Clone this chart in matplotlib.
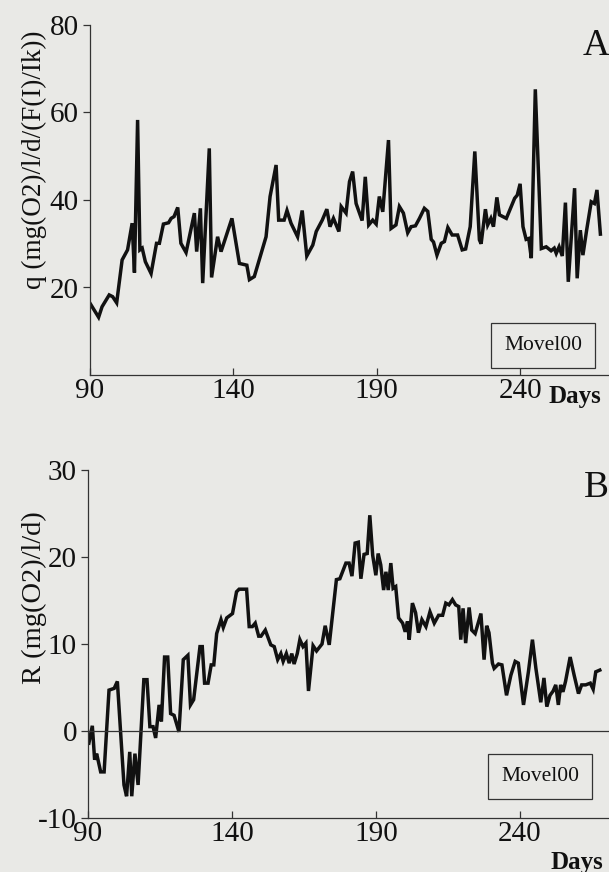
import matplotlib.pyplot as plt

# Panel A: q (mg(O2)/l/d/(F(I)/Ik)) -- vertices
days_a = [90, 93, 94.2, 96.7, 97.9, 99.3, 101.2, 103.1, 104.7, 105.5, 106.6, 107.4, 108.2,
          109.3, 111.3, 113.2, 114.2, 115.6, 117.4, 118.3, 119.3, 120.6, 121.7, 123.5, 126.4,
          127.2, 128.5, 129.3, 131.6, 132.4, 134.5, 135.7, 139.5, 142.1, 144.7, 145.6, 147.3,
          151.4, 152.8, 154.9, 155.8, 157.7, 158.7, 160.1, 162.4, 164, 165.6, 167.7, 168.9,
          171, 172.6, 173.7, 174.9, 176.8, 177.6, 179.3, 180.5, 181.6, 182.8, 184.9, 186,
          187.2, 188.6, 189.8, 190.9, 192.1, 194.1, 195, 196.7, 197.9, 199.3, 200.8, 202,
          203.5, 204.9, 206.6, 207.8, 209, 209.8, 211, 212.5, 213.6, 214.8, 216.3, 218.2,
          219.8, 221, 222.6, 224.2, 225.8, 226.4, 227.9, 228.7, 229.8, 230.7, 231.9, 232.8,
          235.2, 238.1, 239, 240, 241, 242.1, 243, 243.9, 245.3, 247.4, 249.1, 250.8, 251.9,
          252.6, 253.6, 254.7, 255.8, 256.8, 259, 259.9, 261, 261.9, 263.2, 264.8, 265.9,
          266.8, 268]
q_vals = [16.4, 13.2, 15.6, 18.3, 17.9, 16.5, 26.3, 28.6, 34.7, 23.4, 58.3, 28.6, 29.0,
          25.9, 23.2, 30.1, 30.1, 34.5, 34.8, 35.8, 36.2, 38.3, 30.1, 28.0, 37.0,
          28.2, 38.1, 21.0, 51.8, 22.3, 31.6, 28.2, 35.8, 25.5, 25.1, 21.8, 22.5,
          31.6, 40.8, 48.0, 35.4, 35.4, 37.6, 34.7, 31.6, 37.6, 27.2, 29.7, 32.8,
          35.4, 37.9, 33.9, 35.8, 32.8, 38.5, 37.0, 44.2, 46.5, 39.2, 35.3, 45.3,
          34.3, 35.4, 34.5, 40.8, 37.3, 53.7, 33.5, 34.3, 38.5, 37.0, 32.5, 33.9,
          34.1, 35.8, 38.1, 37.4, 31.0, 30.4, 27.4, 30.1, 30.5, 33.7, 32.0, 32.0,
          28.6, 28.8, 33.9, 51.1, 30.9, 30.0, 37.9, 34.3, 35.8, 33.9, 40.6, 36.6,
          35.8, 40.4, 41.1, 43.7, 33.9, 31.0, 31.2, 26.7, 65.3, 28.9, 29.3, 28.4, 29.0,
          27.8, 29.3, 27.2, 39.4, 21.3, 42.7, 22.1, 33.1, 27.4, 33.1, 39.6, 39.2,
          42.3, 32.2]

# Panel B: R (mg(O2)/l/d)
days_b = [90.3, 91.5, 92.3, 93, 94.4, 95.6, 97.3, 99.1, 100.2, 102.5, 103.4, 104.5, 105.2,
          106.3, 107.4, 109.4, 110.5, 111.5, 112.6, 113.5, 114.7, 115.5, 116.6, 117.7, 118.7,
          119.9, 121.6, 123.1, 124.7, 125.6, 126.7, 128.9, 129.7, 130.5, 131.7, 132.8, 133.7,
          134.7, 136.2, 137, 138.2, 140.2, 141.6, 142.5, 145.1, 146, 147.1, 148.1, 149.3,
          150.1, 151.6, 153.5, 154.7, 155.9, 157, 157.8, 158.9, 159.9, 160.8, 161.6, 162.7,
          163.6, 164.7, 165.7, 166.6, 168.2, 169.4, 171.3, 172.4, 173.8, 176.3, 177.5, 179.6,
          180.7, 181.7, 182.8, 183.9, 184.8, 185.9, 187, 187.9, 188.9, 190, 190.8, 191.7,
          192.7, 193.5, 194.3, 195.2, 196, 196.9, 197.9, 199.3, 200.2, 201, 201.6, 202.7,
          203.8, 204.8, 206, 207.4, 208.8, 210.3, 211.8, 213.2, 214.3, 215.4, 216.6, 217.7,
          218.8, 219.5, 220.3, 221.2, 222.4, 223.3, 224.5, 226.5, 227.6, 228.5, 229.3, 230.5,
          231.1, 232.6, 233.8, 235.4, 236.9, 238.4, 239.5, 241.3, 243, 244.4, 245.6, 247.3,
          248.4, 249.4, 250.5, 251.6, 252.5, 253.4, 254.2, 255, 255.9, 257.5, 258.9, 260.4,
          261.5, 262.9, 264.5, 265.5, 266.4, 267.8]
r_vals = [-1.4, 0.6, -3.3, -2.6, -4.7, -4.7, 4.7, 4.9, 5.7, -6.2, -7.5, -2.4, -7.5,
          -2.6, -6.2, 5.9, 5.9, 0.5, 0.5, -0.8, 3.0, 1.1, 8.5, 8.5, 2.0,
          1.8, -0.1, 8.2, 8.7, 3.0, 3.6, 9.7, 9.7, 5.5, 5.5, 7.6, 7.6,
          11.2, 12.8, 11.9, 13.0, 13.5, 16.0, 16.3, 16.3, 12.0, 12.0, 12.4, 10.9,
          10.9, 11.6, 9.9, 9.7, 8.2, 8.9, 8.0, 8.9, 7.8, 8.9, 7.7, 8.9,
          10.5, 9.7, 10.1, 4.6, 9.8, 9.2, 10.0, 12.1, 9.9, 17.4, 17.5, 19.3,
          19.3, 17.8, 21.6, 21.7, 17.5, 20.3, 20.4, 24.8, 20.2, 17.9, 20.4, 19.1,
          16.2, 18.3, 16.2, 19.3, 16.4, 16.6, 13.0, 12.4, 11.4, 12.6, 10.5, 14.7,
          13.6, 11.3, 12.8, 12.0, 13.7, 12.4, 13.3, 13.3, 14.7, 14.5, 15.1, 14.5,
          14.3, 10.5, 14.1, 10.1, 14.2, 11.6, 11.2, 13.5, 8.2, 12.1, 11.3, 7.8,
          7.2, 7.7, 7.6, 4.1, 6.4, 8.0, 7.8, 3.0, 6.8, 10.5, 7.2, 3.3,
          6.1, 2.8, 4.1, 4.6, 5.3, 3.0, 5.3, 4.5, 5.7, 8.5, 6.4, 4.3,
          5.3, 5.3, 5.5, 4.8, 6.8, 7.0]

paper = '#e9e9e6'
ink = '#111111'
plt.rcParams['font.family'] = ['Liberation Serif', 'DejaVu Serif']
plt.rcParams['axes.unicode_minus'] = False

fig = plt.figure(figsize=(6.09, 8.72), dpi=100, facecolor=paper)

ax_a = fig.add_axes([90 / 609, 1 - 375 / 872, 519 / 609, 350 / 872])
ax_b = fig.add_axes([88 / 609, 1 - 818 / 872, 521 / 609, 348 / 872])

for ax in (ax_a, ax_b):
    ax.set_facecolor('none')
    ax.spines['top'].set_visible(False)
    ax.spines['right'].set_visible(False)
    for s in ('left', 'bottom'):
        ax.spines[s].set_color('#333333')
        ax.spines[s].set_linewidth(0.9)
    ax.set_xlim(90, 271)
    ax.set_xticks([90, 140, 190, 240])
    ax.tick_params(axis='x', direction='in', length=5, width=0.9, colors='#333333',
                   labelcolor=ink, labelsize=21, pad=2)
    ax.tick_params(axis='y', direction='out', length=5, width=0.9, colors='#333333',
                   labelcolor=ink, labelsize=21, pad=3)

# panel A
ax_a.plot(days_a, q_vals, color=ink, lw=2.5, solid_joinstyle='miter')
ax_a.set_ylim(0, 80)
ax_a.set_yticks([20, 40, 60, 80])
ax_a.set_yticklabels(['20', '40', '60', '80'])
fig.text(34 / 609, 1 - 160 / 872, 'q (mg(O2)/l/d/(F(I)/Ik))', rotation=90,
         ha='center', va='center', fontsize=19.5, color=ink)
fig.text(575 / 609, 1 - 396 / 872, 'Days', ha='center', va='center',
         fontsize=18, fontweight='bold', color=ink)
fig.text(596 / 609, 1 - 46 / 872, 'A', ha='center', va='center',
         fontsize=27, color=ink)
ax_a.text(0.873, 0.085, 'Movel00', transform=ax_a.transAxes, ha='center', va='center',
          fontsize=15.5, color=ink,
          bbox=dict(boxstyle='square,pad=0.6', fc='none', ec='#333333', lw=0.9))

# panel B
ax_b.plot(days_b, r_vals, color=ink, lw=2.5, solid_joinstyle='miter')
ax_b.axhline(0, color='#333333', lw=0.9)
ax_b.set_ylim(-10, 30)
ax_b.set_yticks([-10, 0, 10, 20, 30])
fig.text(34 / 609, 1 - 598 / 872, 'R (mg(O2)/l/d)', rotation=90,
         ha='center', va='center', fontsize=20.5, color=ink)
fig.text(577 / 609, 1 - 862 / 872, 'Days', ha='center', va='center',
         fontsize=18, fontweight='bold', color=ink)
fig.text(596 / 609, 1 - 488 / 872, 'B', ha='center', va='center',
         fontsize=27, color=ink)
ax_b.text(0.868, 0.12, 'Movel00', transform=ax_b.transAxes, ha='center', va='center',
          fontsize=15.5, color=ink,
          bbox=dict(boxstyle='square,pad=0.6', fc='none', ec='#333333', lw=0.9))

fig.savefig('out.png', dpi=100, facecolor=paper)
